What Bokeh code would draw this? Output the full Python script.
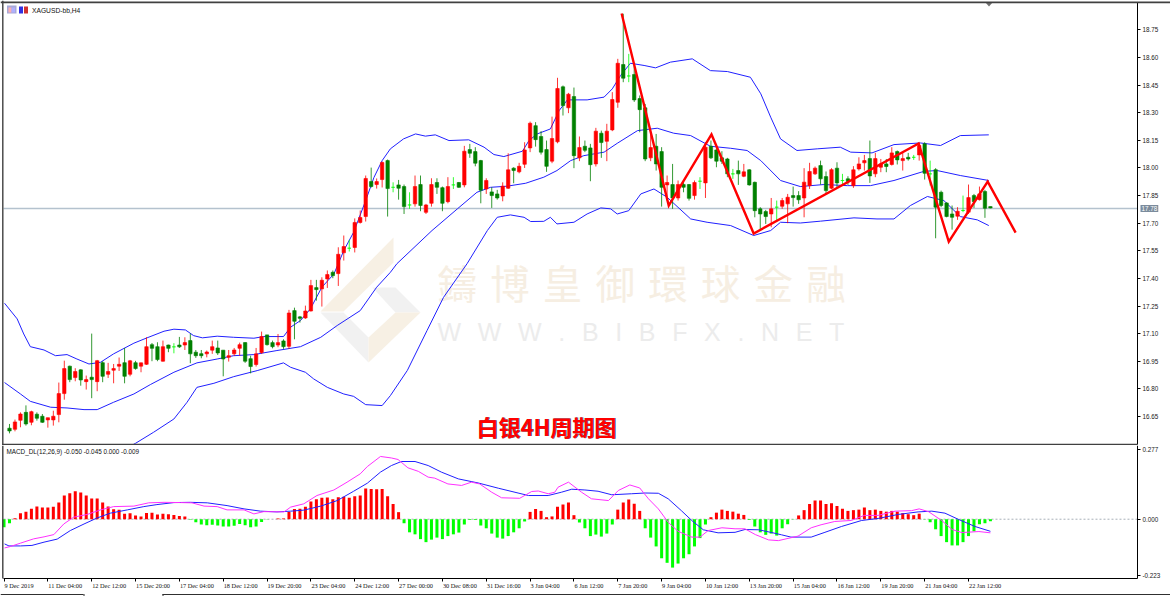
from bokeh.embed import file_html
from bokeh.resources import INLINE
from bokeh.plotting import figure
from bokeh.layouts import column
from bokeh.models import (Range1d, LinearAxis, FixedTicker, Label, LabelSet, ColumnDataSource,
                          BoxAnnotation, PolyAnnotation, NumeralTickFormatter)

# ---------- data ----------
opens = [16.586,16.580,16.629,16.672,16.618,16.662,16.651,16.631,16.631,16.660,
16.774,16.923,16.861,16.903,16.839,16.863,16.839,16.942,16.879,16.901,
16.923,16.942,16.879,16.942,16.923,16.933,17.040,17.029,16.950,17.038,
17.028,17.038,17.038,17.062,16.999,16.991,16.990,17.010,17.022,17.010,
16.971,16.990,17.020,17.051,16.964,16.932,16.997,17.093,17.051,17.038,
17.060,17.031,17.225,17.191,17.185,17.223,17.350,17.343,17.397,17.433,
17.426,17.539,17.564,17.568,17.704,17.736,17.926,17.910,17.937,18.040,
17.895,17.908,17.899,17.799,17.805,17.910,17.759,17.808,17.921,17.893,
17.817,17.908,17.921,17.908,18.100,18.089,18.040,17.886,17.870,17.859,
17.848,17.890,17.999,17.979,18.020,18.109,18.230,18.171,18.100,18.037,
18.142,18.441,18.327,18.388,18.055,18.118,18.109,18.022,18.189,18.145,
18.207,18.357,18.562,18.500,18.508,18.377,18.327,18.055,18.118,18.089,
17.908,17.910,17.837,17.910,17.910,17.850,17.928,17.919,18.118,18.098,
18.055,18.049,17.968,17.986,17.955,17.990,17.922,17.778,17.763,17.750,
17.787,17.792,17.805,17.850,17.850,17.837,17.904,17.968,18.013,17.953,
17.890,17.999,17.932,17.941,17.904,17.995,18.028,18.051,17.968,18.004,
18.022,18.019,18.089,18.040,18.058,18.058,18.071,18.131,17.968,17.991,
17.868,17.810,17.750,17.738,17.769,17.760,17.850,17.828,17.872,17.790]
closes = [16.571,16.620,16.663,16.609,16.676,16.640,16.618,16.643,16.651,16.774,
16.910,16.850,16.894,16.848,16.850,16.850,16.953,16.868,16.894,16.910,
16.933,16.868,16.952,16.910,16.941,17.029,17.020,16.959,17.029,17.020,
17.028,17.028,17.051,16.990,16.980,16.980,17.000,17.029,16.995,16.962,
16.980,17.011,17.040,16.950,16.921,16.990,17.084,17.040,17.029,17.051,
17.029,17.212,17.167,17.183,17.223,17.361,17.339,17.390,17.421,17.415,
17.531,17.573,17.564,17.704,17.731,17.943,17.899,17.926,18.030,17.888,
17.895,17.890,17.790,17.799,17.899,17.796,17.799,17.910,17.895,17.808,
17.899,17.908,17.895,18.091,18.080,18.026,17.879,17.932,17.850,17.837,
17.901,17.990,17.986,18.009,18.098,18.243,18.154,18.086,18.009,18.160,
18.432,18.339,18.401,18.067,18.111,18.096,18.018,18.200,18.138,18.200,
18.372,18.569,18.488,18.500,18.370,18.317,18.049,18.111,18.022,17.895,
17.921,17.837,17.910,17.895,17.835,17.921,17.928,18.113,18.055,18.037,
18.037,17.968,17.968,17.968,17.979,17.908,17.768,17.750,17.736,17.778,
17.787,17.823,17.841,17.839,17.827,17.923,17.981,17.999,17.941,17.877,
17.991,17.919,17.932,17.926,17.990,18.022,18.040,17.957,18.051,18.022,
18.008,18.082,18.044,18.051,18.049,18.058,18.122,17.971,17.968,17.787,
17.796,17.736,17.732,17.765,17.769,17.839,17.817,17.859,17.781,17.783]
highs = [16.609,16.633,16.672,16.710,16.681,16.672,16.663,16.643,16.681,16.834,
16.953,16.926,16.912,16.906,16.872,17.100,16.957,16.950,16.941,16.935,
16.970,17.022,16.957,16.952,16.942,17.080,17.049,17.053,17.062,17.040,
17.048,17.082,17.080,17.100,17.011,17.011,17.008,17.062,17.062,17.011,
17.011,17.022,17.051,17.053,16.980,17.022,17.111,17.093,17.062,17.098,
17.069,17.229,17.241,17.196,17.252,17.392,17.392,17.406,17.443,17.443,
17.569,17.633,17.609,17.726,17.769,17.959,18.002,17.943,18.035,18.046,
17.922,17.935,17.910,17.868,17.959,17.959,17.805,17.944,17.944,17.899,
17.950,17.950,17.924,18.120,18.131,18.113,18.044,17.944,17.895,17.881,
17.922,18.080,18.004,18.028,18.140,18.252,18.249,18.200,18.149,18.279,
18.490,18.448,18.408,18.437,18.171,18.149,18.131,18.218,18.203,18.240,
18.412,18.593,18.838,18.620,18.566,18.394,18.348,18.189,18.185,18.113,
17.959,18.022,17.932,17.922,17.913,17.932,17.950,18.140,18.149,18.127,
18.091,18.055,17.995,18.040,18.022,17.993,17.926,17.787,17.772,17.837,
17.823,17.837,17.859,17.899,17.874,17.999,18.028,18.008,18.040,17.981,
17.999,18.031,17.968,17.955,18.010,18.058,18.071,18.149,18.082,18.049,
18.049,18.113,18.095,18.086,18.082,18.071,18.135,18.140,18.040,17.999,
17.877,17.814,17.796,17.787,17.850,17.910,17.859,17.899,17.881,17.790]
lows = [16.558,16.569,16.591,16.600,16.602,16.627,16.615,16.589,16.600,16.618,
16.741,16.836,16.841,16.817,16.796,16.749,16.787,16.836,16.859,16.830,
16.897,16.830,16.868,16.904,16.890,16.930,16.950,16.950,16.948,16.999,
16.993,17.022,17.011,16.939,16.968,16.966,16.971,16.990,16.984,16.868,
16.948,16.979,16.980,16.941,16.884,16.921,16.990,17.035,17.020,17.026,
17.017,17.017,17.069,17.160,17.180,17.220,17.279,17.247,17.348,17.401,
17.359,17.497,17.546,17.541,17.698,17.709,17.894,17.888,17.894,17.736,
17.868,17.828,17.750,17.778,17.790,17.765,17.750,17.790,17.859,17.765,
17.808,17.886,17.892,17.895,18.055,18.009,17.808,17.859,17.783,17.828,
17.819,17.886,17.917,17.971,18.000,18.086,18.116,18.073,17.979,18.026,
18.134,18.285,18.298,17.999,18.037,18.086,17.928,18.008,18.055,18.037,
18.200,18.327,18.466,18.466,18.359,18.194,18.037,18.037,17.986,17.790,
17.823,17.778,17.823,17.868,17.823,17.828,17.886,17.837,18.049,18.004,
18.022,17.950,17.941,17.908,17.950,17.904,17.732,17.660,17.696,17.678,
17.714,17.778,17.700,17.790,17.805,17.732,17.886,17.962,17.910,17.859,
17.886,17.892,17.910,17.908,17.892,17.986,17.986,17.919,17.950,17.977,
17.977,18.013,18.019,17.986,18.040,18.044,18.040,17.937,17.904,17.618,
17.787,17.732,17.665,17.718,17.760,17.750,17.783,17.823,17.729,17.781]

upper_bar = [-0.9,1.4,2.6,3.8,6.3,8.4,10.5,12.3,14.5,16.6,19,22.7,25.1,28.2,30,32.1,33.6,35.2,37.9,40.9,44.6,46.4,50,51.3,53.1,54.9,57,59.2,61,62.8,65,66.5,68,
 69.5,71.9,74.1,75.9,77.7,80.2,83.8,86.6,88.4,90.2,93.6,94.8,96.3,98.7,100.3,101.8,105.4,108.5,110,111.5,113.3,115.8,117.9,120.6,124.6,127.9,131,135.2,137.1,138.9,140.7,
 143.7,147.4,151.6,153.5,157.4,161.4,166.2,169.9,173.5,178.7]
upper_val = [17.265,17.180,17.098,17.029,17.011,16.980,16.986,16.962,16.935,16.944,16.990,17.048,17.077,17.113,17.124,17.120,17.089,17.077,17.086,17.080,17.075,17.084,17.084,17.135,17.171,17.234,17.352,17.424,17.551,17.651,17.823,17.948,18.040,
 18.104,18.158,18.185,18.173,18.180,18.149,18.153,18.113,18.073,18.062,18.091,18.149,18.185,18.212,18.312,18.370,18.370,18.385,18.430,18.502,18.569,18.557,18.544,18.575,18.593,18.529,18.524,18.493,18.403,18.276,18.158,
 18.095,18.104,18.113,18.086,18.082,18.127,18.136,18.122,18.176,18.180]
middle_bar = [-0.9,2,3.8,7.5,10.5,13.6,16,19,22.7,25.7,30,34.2,37.9,40.9,44.6,48.8,53.1,56.8,59.8,64,67,69.5,70.7,
 77.1,81.7,85.3,87.8,90.8,94.2,97.5,99.9,102.4,104.8,108.5,110.9,114.6,118.2,121.2,124.3,127.9,131.6,134.6,137.1,140.7,
 144.3,148.6,152.9,157.1,161.4,166.9,169.3,173.5,178.7]
middle_val = [16.834,16.772,16.732,16.700,16.696,16.687,16.687,16.727,16.772,16.823,16.890,16.941,16.962,16.980,16.986,17.008,17.029,17.080,17.144,17.225,17.352,17.433,17.480,
 17.660,17.777,17.868,17.895,17.901,17.917,17.950,17.986,18.040,18.067,18.086,18.134,18.203,18.216,18.189,18.176,18.118,18.107,18.095,18.040,17.932,
 17.899,17.910,17.904,17.904,17.932,17.982,17.986,17.959,17.932]
lower_bar = [21.5,23,26.3,30,32.4,34.2,37.3,40.9,45.2,50,51.3,54,55.5,58,61,62.8,65,68,69.5,72.6,76.2,79.2,83.5,
 87.2,89,91.4,93.9,95.1,97.5,98.7,99.9,103,105.4,107.9,109.7,110.9,113,115.2,117.6,120,124.3,127.3,131.6,135.8,138.9,140.7,
 144.3,148,154.1,158.3,161.4,164.4,167.5,170.5,173.5,176.6,178.7]
lower_val = [16.480,16.504,16.564,16.636,16.727,16.808,16.830,16.866,16.899,16.941,16.917,16.890,16.854,16.808,16.772,16.759,16.714,16.709,16.763,16.900,17.117,17.297,17.480,
 17.660,17.732,17.745,17.732,17.709,17.710,17.732,17.696,17.705,17.750,17.783,17.778,17.750,17.768,17.859,17.886,17.841,17.723,17.705,17.687,17.633,17.660,17.705,
 17.701,17.711,17.729,17.723,17.723,17.796,17.845,17.823,17.736,17.718,17.687]

zigzag_bar = [111.7,120.3,128.1,135.8,165.9,171.4,178.5,183.6]
zigzag_val = [18.839,17.796,18.182,17.644,18.133,17.600,17.926,17.649]
last_price = 17.78

price_ticks = [18.75,18.60,18.45,18.30,18.15,18.00,17.85,17.70,17.55,17.40,17.25,17.10,16.95,16.80,16.65]
macd_ticks = [0.277,0.0,-0.223]
time_bars = [-1,7,15,23,31,39,47,55,63,71,79,87,95,103,111,119,127,135,143,151,159,167,175]
time_labels = ["9 Dec 2019","11 Dec 04:00","12 Dec 12:00","15 Dec 20:00","17 Dec 04:00","18 Dec 12:00","19 Dec 20:00",
 "23 Dec 04:00","24 Dec 12:00","27 Dec 00:00","30 Dec 08:00","31 Dec 16:00","3 Jan 04:00","6 Jan 12:00","7 Jan 20:00",
 "9 Jan 04:00","10 Jan 12:00","13 Jan 20:00","15 Jan 04:00","16 Jan 12:00","19 Jan 20:00","21 Jan 04:00","22 Jan 12:00"]

hist_vals = [-.032,-.016,.004,.024,.030,.042,.050,.046,.046,.049,
.066,.094,.103,.111,.106,.094,.082,.082,.066,.050,
.040,.038,.022,.024,.015,.011,.025,.026,.019,.022,
.020,.017,.013,.011,-.002,-.012,-.021,-.024,-.022,-.025,
-.029,-.029,-.026,-.019,-.024,-.032,-.029,-.011,-.001,.000,
.003,.003,.029,.041,.042,.049,.070,.079,.085,.086,
.079,.087,.089,.085,.091,.094,.122,.120,.119,.120,.091,
.060,.028,-.016,-.052,-.060,-.079,-.091,-.081,-.073,-.079,
-.067,-.060,-.053,-.021,-.003,-.003,-.025,-.036,-.057,-.073,
-.077,-.067,-.052,-.036,-.009,.029,.041,.033,.008,.011,
.049,.058,.066,.016,-.013,-.036,-.067,-.061,-.069,-.057,
-.021,.038,.066,.078,.061,.033,-.036,-.073,-.108,-.155,
-.173,-.192,-.176,-.155,-.139,-.108,-.075,-.021,.008,.026,
.038,.033,.030,.022,.017,-.003,-.029,-.052,-.062,-.057,-.065,
-.036,-.020,-.001,.015,.036,.060,.074,.074,.060,.063,
.052,.042,.033,.036,.038,.046,.036,.038,.033,.030,
.033,.030,.024,.020,.016,.022,-.001,-.012,-.040,-.067,
-.091,-.104,-.104,-.091,-.067,-.048,-.020,-.016,-.008]

signal_bar = [-0.9,-0.1,2,4.1,6.3,8.7,11.1,13.6,16,18.4,21.5,24.5,26.9,30,33,36.1,39.7,42.8,45.8,48.8,51.3,53.7,56.8,59.8,62.8,65.3,67.7,
 69.7,71.5,74,76.4,78.8,81.9,85.5,89.2,92.8,94.7,98.3,100.7,102.6,105,107.4,109.9,113.5,116,118.4,120.2,122.6,124.5,126.6,129.3,132.4,134.2,136.7,139.1,140.9,
 142.6,146.3,148.8,151.8,155.5,158.5,162.2,165.8,168.3,170.7,173.2,176.2,179]
signal_val = [-.098,-.106,-.106,-.104,-.091,-.079,-.045,-.019,.005,.024,.037,.050,.058,.066,.067,.065,.054,.041,.032,.029,.032,.036,.052,.074,.111,.143,.187,
 .213,.229,.229,.213,.187,.160,.144,.123,.104,.094,.094,.107,.119,.116,.111,.097,.101,.104,.103,.081,.034,-.005,-.042,-.054,-.052,-.041,-.042,-.053,-.062,
 -.071,-.071,-.052,-.029,-.005,.003,.019,.029,.032,.024,-.001,-.029,-.048]
macd_bar = [-0.9,.2,2,4.4,6.3,8.1,9.9,11.7,14.2,16.6,19,22.7,25.4,28.2,31.2,33.3,35.5,37.9,39.7,42.8,44.6,46.4,50.1,51.3,53.7,56.1,59.2,61.6,64,65.3,67.7,
 69.7,70.9,72.7,74.6,76.4,77.6,80,82.5,84.3,85.8,88,89.8,93.1,95.3,96.5,98.3,99.5,100.1,102,104.4,106.2,109.3,111.1,113.2,115,116.6,118.4,120.2,122,124.5,126,127.5,130,132.4,134.2,136.1,138.5,140.3,
 143.9,146.3,148.1,150.6,153.6,156,158.5,161.6,164.6,166,167.7,170.1,172,173.8,176.9,179]
macd_val = [-.114,-.108,-.095,-.078,-.070,-.061,-.019,.008,.019,.037,.050,.052,.065,.067,.066,.065,.052,.050,.037,.037,.021,.030,.029,.048,.061,.094,.116,.147,.180,.209,.249,
 .243,.237,.204,.190,.167,.163,.140,.134,.147,.140,.107,.085,.083,.110,.112,.101,.107,.127,.147,.107,.081,.074,.114,.136,.124,.081,.041,-.012,-.048,-.071,-.071,-.045,-.034,-.038,-.038,-.061,-.082,-.085,
 -.067,-.034,-.022,-.009,-.005,.015,.015,.032,.034,.041,.030,-.005,-.041,-.053,-.049,-.054]

# ---------- styles ----------
RED, DKGREEN, LIME, BLUE, MAGENTA = "#ff0000", "#008000", "#00ff00", "#2020ff", "#ff30ff"
FRAME = "#404040"
LABEL_FONT = "Liberation Sans"
W, H1, H2 = 1170, 445, 151

# Both plot areas fill the whole canvas; the axes sit at fixed data locations inside them.
X_LEFT, X_AXIS = -1.095, 205.84      # bar numbers at the panel's left edge and at its right axis
xr = Range1d(-1.642, 211.86)
MAIN_BOUNDS = (16.497, 18.899)
MACD_BOUNDS = (-0.2353, 0.2925)

bars = list(range(len(opens)))
body_color = [RED if c > o else (DKGREEN if c < o else LIME) for o, c in zip(opens, closes)]
candles = ColumnDataSource(dict(x=bars, o=opens, c=closes, h=highs, l=lows, col=body_color))

common = dict(toolbar_location=None, output_backend="svg", x_axis_location=None, y_axis_location=None,
              min_border_left=0, min_border_right=0, min_border_top=0, min_border_bottom=0, outline_line_color=None)
p1 = figure(width=W, height=H1, x_range=xr, y_range=Range1d(16.492, 18.910), **common)
p1.grid.visible = False
ax = LinearAxis(ticker=FixedTicker(ticks=price_ticks), fixed_location=X_AXIS, bounds=MAIN_BOUNDS, major_tick_out=3,
                major_tick_in=0, minor_tick_line_color=None, major_label_standoff=2, major_label_text_font=LABEL_FONT,
                major_label_text_font_size="6.3px", major_label_text_color="#202020", axis_line_color="black",
                formatter=NumeralTickFormatter(format="0.00"))
p1.add_layout(ax, "right")


def sy1(c):
    return H1 - c


def sy2(c):
    return 596 - c


scr = dict(x_units="screen", y_units="screen")
boxu = dict(left_units="screen", right_units="screen", top_units="screen", bottom_units="screen")


def poly(fig, pts, color, to_y):
    fig.add_layout(PolyAnnotation(xs=[a for a, _ in pts], ys=[to_y(b) for _, b in pts],
                                  xs_units="screen", ys_units="screen", fill_color=color, fill_alpha=1,
                                  line_color=None, level="underlay"))


def bar(fig, l, r, t, b, col, to_y, level="overlay"):
    fig.add_layout(BoxAnnotation(left=l, right=r, top=to_y(t), bottom=to_y(b), fill_color=col, fill_alpha=1,
                                 line_color=None, level=level, **boxu))


# watermark
TAN, PALE = "#f7f0e4", "#f1f1f1"
poly(p1, [(393, 237), (393, 262), (343, 311), (320, 311)], TAN, sy1)
poly(p1, [(320, 312), (343, 312), (368, 337), (368, 362)], PALE, sy1)
poly(p1, [(372, 287), (395, 287), (420, 312), (395, 312)], PALE, sy1)
poly(p1, [(368, 337), (395, 312), (420, 312), (368, 362)], TAN, sy1)
p1.add_layout(Label(x=437, y=sy1(281), text="\u2004".join("鑄博皇御環球金融"), text_font="Noto Sans CJK TC",
                    text_font_size="39.5px", text_color="#f6eee2", text_baseline="middle", level="underlay", **scr))
p1.add_layout(Label(x=437, y=sy1(331), text="\u2002\u2006".join("WWW.BIBFX.NET"), text_font="Liberation Sans",
                    text_font_size="25px", text_color="#ececec", text_baseline="middle", level="underlay", **scr))

p1.line([X_LEFT, X_AXIS], [last_price, last_price], line_color="#b4c2ce", line_width=1.5)

for xs_, ys_ in ((upper_bar, upper_val), (middle_bar, middle_val), (lower_bar, lower_val)):
    p1.line(xs_, ys_, line_color=BLUE, line_width=1)

p1.segment(x0="x", x1="x", y0="l", y1="h", line_color="col", line_width=1, line_alpha=0.8, source=candles)
p1.vbar(x="x", width=0.62, bottom="o", top="c", fill_color="col", line_color="col", line_width=0.6, source=candles)

p1.line(zigzag_bar, zigzag_val, line_color=RED, line_width=2.4, line_join="miter")

# window frame of the main panel
bar(p1, 0, 1170, 1, 2.7, FRAME, sy1)
bar(p1, 1.6, 3, 0, 445, FRAME, sy1)
bar(p1, 1.6, 1137, 443.3, 445, FRAME, sy1)

# header icons and symbol
for l, r, t, b, col in ((6.5, 16, 5, 13, "#a8a8d8"), (8, 11, 7, 12, "#ffb0b0"), (11, 14.5, 7, 12, "#b0b0ff"),
                        (18.5, 22.5, 6, 13, "#3030e0"), (23.5, 27.5, 6, 13, "#d03030")):
    bar(p1, l, r, t, b, col, sy1)
p1.add_layout(Label(x=31.5, y=sy1(9.5), text="XAGUSD-bb,H4", text_font=LABEL_FONT, text_font_size="6.7px",
                    text_color="#101010", text_baseline="middle", **scr))
# chart-shift marker
p1.add_layout(PolyAnnotation(xs=[985, 992, 988.5], ys=[sy1(2), sy1(2), sy1(6)], xs_units="screen",
                             ys_units="screen", fill_color="#707070", fill_alpha=1, line_color=None))
# price tag
p1.add_layout(Label(x=1140, x_units="screen", y=last_price, y_units="data", text=f"{last_price:.2f}", text_font=LABEL_FONT,
                    text_font_size="6.3px", text_color="white", text_baseline="middle", background_fill_color="#7b8b9c",
                    padding=1))
# chart caption
CAPTION = "白银4H周期图"
p1.add_layout(Label(x=476.8, y=sy1(425.8), text=CAPTION, text_font="Noto Sans CJK SC", text_font_style="bold",
                    text_font_size="22px", text_color="#204060", text_baseline="middle", **scr))
p1.add_layout(Label(x=476, y=sy1(425), text=CAPTION, text_font="Noto Sans CJK SC", text_font_style="bold",
                    text_font_size="22px", text_color=RED, text_baseline="middle", **scr))

# ---------- MACD panel ----------
p2 = figure(width=W, height=H2, x_range=xr, y_range=Range1d(-0.3067, 0.2925), **common)
p2.grid.visible = False
ay = LinearAxis(ticker=FixedTicker(ticks=macd_ticks), fixed_location=X_AXIS, bounds=MACD_BOUNDS, major_tick_out=3,
                major_tick_in=0, minor_tick_line_color=None, major_label_standoff=2, major_label_text_font=LABEL_FONT,
                major_label_text_font_size="6.3px", major_label_text_color="#202020", axis_line_color="black",
                major_label_overrides={0.277: "0.277", 0.0: "0.000", -0.223: "-0.223"})
p2.add_layout(ay, "right")
axx = LinearAxis(ticker=FixedTicker(ticks=time_bars), fixed_location=MACD_BOUNDS[0], bounds=(X_LEFT, X_AXIS),
                 major_tick_out=3, major_tick_in=0, minor_tick_line_color=None, axis_line_color="black",
                 major_label_text_font_size="1px", major_label_text_color=None,
                 major_label_overrides={b: "" for b in time_bars})
p2.add_layout(axx, "below")

p2.line([X_LEFT, X_AXIS], [0, 0], line_color="#a8b0b8", line_dash=[2, 2], line_width=1)
hist_bars = list(range(-1, len(hist_vals) - 1))
hist_col = [RED if v > 0 else LIME for v in hist_vals]
p2.vbar(x=hist_bars, width=0.55, bottom=0, top=hist_vals, fill_color=hist_col, line_color=None)
p2.line(signal_bar, signal_val, line_color=BLUE, line_width=1)
p2.line(macd_bar, macd_val, line_color=MAGENTA, line_width=1)

p2.add_layout(Label(x=6, y=sy2(451), text="MACD_DL(12,26,9) -0.050 -0.045 0.000 -0.009", text_font=LABEL_FONT,
                    text_font_size="6.35px", text_color="#101010", text_baseline="middle", **scr))
time_src = ColumnDataSource(dict(x=time_bars, text=time_labels))
p2.add_layout(LabelSet(x="x", y=sy2(584.5), y_units="screen", text="text", source=time_src, x_offset=0.5,
                       text_align="left", text_baseline="middle", text_font=LABEL_FONT, text_font_size="6.3px",
                       text_color="#101010"))

# window chrome: left edge and bottom tab strip
bar(p2, 1.6, 3, 445, 578, FRAME, sy2)
bar(p2, 0, 83, 593.5, 594.6, "#303030", sy2)
bar(p2, 162, 1170, 593.5, 594.6, "#303030", sy2)
bar(p2, 83, 84, 593.5, 596, "#303030", sy2)
bar(p2, 162, 163, 593.5, 596, "#303030", sy2)

page = column(p1, p2, spacing=0)
open("out.html", "w").write(file_html(page, INLINE))
